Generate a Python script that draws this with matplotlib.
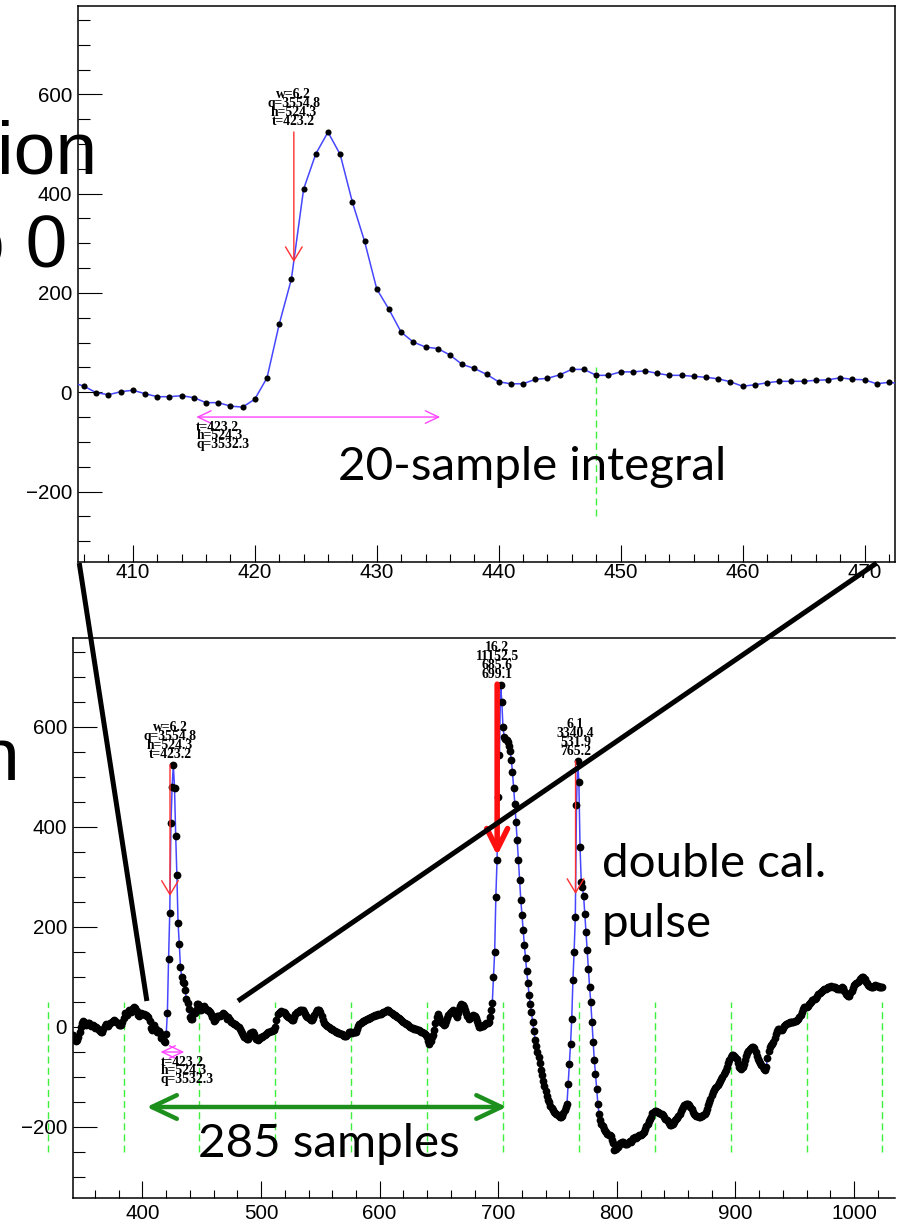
import matplotlib
matplotlib.use("Agg")
import matplotlib.pyplot as plt
from matplotlib.patches import ConnectionPatch
from matplotlib.ticker import MultipleLocator
import numpy as np

plt.rcParams["font.family"] = ["Liberation Sans", "DejaVu Sans"]

W, H = 897, 1223

# pedestal-subtracted ADC trace, one value per sample starting at sample 341
first_sample = 341
adc = [
    -16, -20, -25, -28, -26, -20, -10, 0, 8, 12,            # 341
    11, 5, 6, 9, 8, 4, 2, 5, 3, -2,
    0, -2, -5, -8, -10, -9, -4, 2, 6, 4,
    3, 6, 8, 10, 12, 14, 12, 11, 8, 5,
    4, 4, 10, 18, 28, 26, 24, 30, 34, 30,
    33, 38, 41, 38, 32, 24, 22, 26, 28, 27,                 # 391
    26, 24, 24, 22, 20, 12, -1, -5, 1, 4,
    -3, -9, -9, -7, -11, -21, -21, -28, -30, -14,
    29, 137, 228, 409, 480, 524, 479, 383, 304, 208,        # 421
    167, 121, 101, 91, 88, 75, 56, 48, 36, 21,
    17, 17, 26, 28, 35, 46, 46, 34, 34, 41,
    41, 43, 38, 34, 34, 32, 30, 27, 21, 12,
    15, 19, 22, 22, 22, 24, 25, 29, 26, 25,
    17, 20, 17, 14, 10, 8, 6, 6, 4, 2,                      # 471
    0, -4, -8, -12, -16, -19, -22, -24, -23, -18,
    -12, -9, -9, -14, -20, -24, -26, -24, -21, -20,
    -19, -17, -15, -13, -11, -9, -9, -8, -7, -6,            # 501
    -6, 0, 14, 27, 28, 30, 32, 31, 30, 28,
    24, 22, 20, 18, 16, 14, 14, 20, 26, 31,
    31, 33, 34, 34, 34, 30, 26, 22, 21, 18,
    16, 14, 14, 18, 24, 30, 34, 35, 34, 30,
    22, 14, 8, 6, 4, 2, 1, -1, -3, -4,                      # 551
    -6, -7, -9, -10, -11, -12, -13, -14, -16, -18,
    -18, -17, -14, -10, -9, -10, -11, -10, -9, -9,
    -4, 2, 6, 9, 11, 12, 13, 15, 16, 17,
    18, 19, 20, 22, 23, 24, 25, 25, 26, 27,
    27, 28, 30, 31, 32, 34, 34, 33, 31, 28,                 # 601
    26, 24, 24, 22, 20, 18, 17, 15, 13, 11,
    9, 7, 7, 5, 3, 1, -1, -2, -3, -3,
    -4, -5, -6, -8, -9, -10, -12, -14, -16, -20,
    -28, -33, -27, -20, -16, -6, 8, 20, 27, 20,
    14, 11, 8, 4, 6, 12, 18, 24, 28, 31,                    # 651
    33, 34, 30, 24, 21, 28, 36, 42, 47, 44,
    40, 34, 28, 22, 17, 18, 20, 22, 24, 22,
    18, 12, 6, 1, 0, 2, 3, 4, 6, 8,
    9, 11, 20, 34, 49, 101, 151, 261, 334, 461,
    544, 685, 651, 600, 581, 577, 574, 570, 563, 552,       # 701
    535, 510, 478, 446, 410, 375, 335, 295, 255, 225,
    195, 165, 138, 112, 88, 65, 47, 30, 10, -8,
    -25, -38, -50, -60, -72, -85, -95, -108, -118, -128,
    -137, -145, -150, -157, -162, -166, -170, -172, -174, -175,
    -177, -179, -180, -178, -172, -166, -160, -153, -113, -73,  # 751
    -33, 17, 94, 151, 221, 445, 532, 491, 360, 290,
    280, 262, 227, 190, 154, 117, 81, 51, 11, -29,
    -66, -93, -123, -153, -173, -186, -193, -198, -203, -207,
    -210, -213, -215, -216, -218, -225, -232, -246, -243, -240,
    -239, -236, -232, -230, -229, -231, -233, -234, -233, -230,  # 801
    -228, -229, -226, -222, -220, -221, -219, -218, -216, -216,
    -213, -211, -209, -203, -198, -193, -188, -183, -179, -172,
    -169, -168, -168, -169, -170, -172, -173, -174, -176, -179,
    -183, -185, -188, -192, -196, -196, -193, -190, -186, -183,
    -182, -178, -173, -168, -163, -159, -156, -154, -153, -154,  # 851
    -156, -159, -164, -170, -174, -176, -177, -178, -179, -179,
    -178, -177, -175, -173, -170, -163, -156, -150, -143, -136,
    -130, -125, -122, -119, -115, -111, -107, -103, -99, -94,
    -90, -86, -80, -72, -66, -60, -56, -55, -57, -59,
    -64, -72, -79, -82, -83, -80, -74, -66, -58, -52,       # 901
    -48, -44, -41, -40, -39, -41, -50, -58, -64, -68,
    -72, -76, -80, -84, -86, -80, -62, -48, -40, -35,
    -33, -30, -22, -14, -8, -4, -3, -5, -6, -2,
    3, 5, 7, 8, 9, 10, 11, 11, 11, 12,
    13, 14, 17, 20, 24, 30, 36, 40, 41, 41,                 # 951
    43, 46, 48, 51, 54, 56, 57, 58, 62, 66,
    68, 71, 73, 75, 77, 77, 78, 80, 81, 81,
    82, 81, 81, 80, 78, 77, 77, 77, 79, 81,
    78, 72, 67, 64, 62, 63, 68, 72, 78, 84,
    87, 88, 90, 93, 96, 99, 101, 101, 97, 91,               # 1001
    88, 85, 83, 81, 80, 81, 82, 84, 83, 82,
    81, 80, 81, 81,
]
samples = np.arange(first_sample, first_sample + len(adc))
adc = np.array(adc)

# pulse finder output
pulse_t = [423.2, 699.1, 765.2]
pulse_h = [524.3, 685.6, 531.9]
pulse_q = [3554.8, 11152.5, 3340.4]
pulse_w = [6.2, 16.2, 6.1]

# fixed 20-sample integral of the first pulse
win_start, win_end = 415.2, 435.2
win_t, win_h, win_q = 423.2, 524.3, 3532.3
win_y = -50

# 64-sample block boundaries
block_edges = [320, 384, 448, 512, 576, 640, 704, 768, 832, 896, 960, 1024]

YLIM = (-342, 778)
SERIF = dict(fontfamily="Liberation Serif", fontweight="bold", fontsize=9.8)
SLIDE = dict(fontfamily="Lato", color="black", fontsize=34.2)


def px(x, y):
    return x / W, 1 - y / H


def axes_box(left, top, right, bottom):
    return [left / W, 1 - bottom / H, (right - left) / W, (bottom - top) / H]


def style(ax, xlim, xmajor, xminor, xpad):
    ax.set_xlim(*xlim)
    ax.set_ylim(*YLIM)
    ax.xaxis.set_major_locator(MultipleLocator(xmajor))
    ax.xaxis.set_minor_locator(MultipleLocator(xminor))
    ax.yaxis.set_major_locator(MultipleLocator(200))
    ax.yaxis.set_minor_locator(MultipleLocator(50))
    ax.tick_params(which="both", direction="in", width=0.8, labelsize=14.8)
    ax.tick_params(axis="y", which="major", length=17.5, pad=4.3)
    ax.tick_params(axis="y", which="minor", length=8.8)
    ax.tick_params(axis="x", which="major", length=12, pad=xpad)
    ax.tick_params(axis="x", which="minor", length=6)
    for s in ax.spines.values():
        s.set_linewidth(1.1)


def trace(ax, clip_blocks, ms):
    lc = ax.vlines(block_edges, -250, 50, colors="#3cf03c",
                   linestyles=(0, (5, 3)), lw=1.0, zorder=2)
    lc.set_clip_on(clip_blocks)
    ax.plot(samples, adc, color="#4646ff", lw=1.1, zorder=3)
    ax.plot(samples, adc, "o", color="black", ms=ms, mec="none", zorder=4)


def pulse_marks(ax, i, named, color="#ff3030", lw=1.0, head=(1.0, 0.6)):
    t, h = pulse_t[i], pulse_h[i]
    ax.annotate("", xy=(t, h / 2), xytext=(t, h),
                arrowprops=dict(arrowstyle="->,head_length=%g,head_width=%g" % head,
                                color=color, lw=lw, shrinkA=0, shrinkB=0,
                                mutation_scale=10), zorder=5)
    vals = ["%.1f" % pulse_w[i], "%.1f" % pulse_q[i], "%.1f" % h, "%.1f" % t]
    if named:
        vals = [k + "=" + v for k, v in zip("wqht", vals)]
    for txt, dy in zip(vals, (37, 28, 19, 10)):
        ax.annotate(txt, xy=(t, h), xytext=(0, dy * 0.72), textcoords="offset points",
                    ha="center", va="center", zorder=6, **SERIF)


def window_marks(ax):
    ax.annotate("", xy=(win_end, win_y), xytext=(win_start, win_y),
                arrowprops=dict(arrowstyle="<->,head_length=0.95,head_width=0.45",
                                color="#ff44ff", lw=1.0, shrinkA=0, shrinkB=0,
                                mutation_scale=10), zorder=5)
    vals = ["t=%.1f" % win_t, "h=%.1f" % win_h, "q=%.1f" % win_q]
    for txt, dy in zip(vals, (10, 18, 27)):
        ax.annotate(txt, xy=(win_start, win_y), xytext=(0, -dy * 0.72),
                    textcoords="offset points", ha="left", va="center", zorder=6, **SERIF)


fig = plt.figure(figsize=(W / 100, H / 100), dpi=100)

# zoomed view of the first pulse
ax_top = fig.add_axes(axes_box(78, 6, 895, 562))
style(ax_top, (405.5, 472.5), 10, 2, 1)
trace(ax_top, True, 4.4)
pulse_marks(ax_top, 0, True)
window_marks(ax_top)

# full readout window
ax_bot = fig.add_axes(axes_box(73, 638, 895, 1198))
style(ax_bot, (341.4, 1034.6), 100, 20, 4)
ax_bot.spines["right"].set_visible(False)
trace(ax_bot, False, 5.6)
pulse_marks(ax_bot, 0, True)
pulse_marks(ax_bot, 1, False, color="#ff1010", lw=4.0, head=(1.5, 0.75))
pulse_marks(ax_bot, 2, False)
window_marks(ax_bot)

# 285-sample spacing between the two calibration pulses
ax_bot.annotate("", xy=(707, -160), xytext=(403.5, -160), annotation_clip=False,
                arrowprops=dict(arrowstyle="<->,head_length=1.8,head_width=0.85",
                                color="#1c8f1c", lw=3.2, shrinkA=0, shrinkB=0,
                                mutation_scale=10), zorder=7)

# zoom guides from the upper panel down to the trace
for xa, xb in ((405.6, 403.7), (471.0, 480.5)):
    con = ConnectionPatch(xyA=(xa, -344), coordsA=ax_top.transData,
                          xyB=(xb, 52), coordsB=ax_bot.transData,
                          color="black", lw=3.6, capstyle="butt")
    fig.add_artist(con)

# slide text around the plots
fig.text(*px(97, 173), "ion", ha="right", va="baseline", fontsize=54)
fig.text(*px(67, 267), "o 0", ha="right", va="baseline", fontsize=54)
fig.text(*px(20, 780), "n", ha="right", va="baseline", fontsize=54)
fig.text(*px(338, 480), "20-sample integral", ha="left", va="baseline", **SLIDE)
fig.text(*px(198, 1157), "285 samples", ha="left", va="baseline", **SLIDE)
fig.text(*px(602, 877), "double cal.", ha="left", va="baseline", **SLIDE)
fig.text(*px(602, 937), "pulse", ha="left", va="baseline", **SLIDE)

fig.savefig("out.png", dpi=100)
